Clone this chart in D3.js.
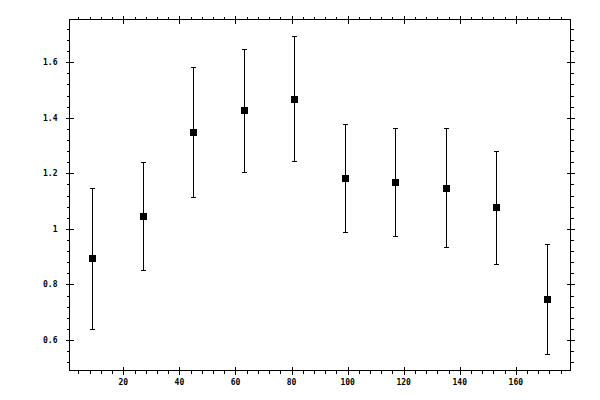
<!DOCTYPE html>
<html>
<head>
<meta charset="utf-8">
<style>
    body { margin: 0; background: #fff; }
    svg { display: block; }
    .tick-label {
        font-family: 'DejaVu Sans Mono', monospace;
        font-size: 8px;
        font-weight: bold;
        fill: #000;
    }
</style>
</head>
<body>
<svg width="600" height="400"></svg>
<script src="https://d3js.org/d3.v7.min.js"></script>
<script>
    // data
    let xs = [9, 27, 45, 63, 81, 99, 117, 135, 153, 171]
    let ys = [0.896, 1.047, 1.35, 1.429, 1.468, 1.184, 1.169, 1.148, 1.079, 0.748]
    let hi = [1.148, 1.24, 1.582, 1.647, 1.695, 1.377, 1.364, 1.364, 1.281, 0.946]
    let lo = [0.64, 0.853, 1.115, 1.204, 1.245, 0.989, 0.975, 0.935, 0.874, 0.55]

    let xMajor = [20, 40, 60, 80, 100, 120, 140, 160]
    let yMajor = [0.6, 0.8, 1.0, 1.2, 1.4, 1.6]
    let yLabels = ["0.6", "0.8", "1", "1.2", "1.4", "1.6"]

    let data = xs.map((x, i) => ({ x: x, y: ys[i], hi: hi[i], lo: lo[i] }))

    let svg = d3.select("svg")

    let frame = { left: 69.5, right: 570.5, top: 19.5, bottom: 370.5 }

    let x = d3.scaleLinear().domain([0.8, 179.5]).range([frame.left, frame.right])
    let y = d3.scaleLinear().domain([0.49, 1.754]).range([frame.bottom, frame.top])

    let xMinor = d3.range(4, 180, 4).filter(v => v % 20 != 0)
    let yMinor = d3.range(0.52, 1.75, 0.04).map(v => +v.toFixed(2))
        .filter(v => !yMajor.some(m => Math.abs(m - v) < 1e-6))

    let g = svg.append("g")
        .attr("stroke", "#000")
        .attr("stroke-width", 1)
        .attr("shape-rendering", "crispEdges")

    // frame
    g.append("rect")
        .attr("x", frame.left).attr("y", frame.top)
        .attr("width", frame.right - frame.left).attr("height", frame.bottom - frame.top)
        .attr("fill", "none")

    // major ticks cross the frame, minor ticks point out
    xMajor.forEach(v => {
        let px = Math.round(x(v)) + 0.5
        g.append("line").attr("x1", px).attr("x2", px).attr("y1", frame.bottom - 4).attr("y2", frame.bottom + 4)
        g.append("line").attr("x1", px).attr("x2", px).attr("y1", frame.top - 4).attr("y2", frame.top + 4)
    })
    xMinor.forEach(v => {
        let px = Math.round(x(v)) + 0.5
        g.append("line").attr("x1", px).attr("x2", px).attr("y1", frame.bottom).attr("y2", frame.bottom + 3)
        g.append("line").attr("x1", px).attr("x2", px).attr("y1", frame.top - 3).attr("y2", frame.top)
    })
    yMajor.forEach(v => {
        let py = Math.round(y(v)) + 0.5
        g.append("line").attr("x1", frame.left - 4).attr("x2", frame.left + 4).attr("y1", py).attr("y2", py)
        g.append("line").attr("x1", frame.right - 4).attr("x2", frame.right + 4).attr("y1", py).attr("y2", py)
    })
    yMinor.forEach(v => {
        let py = Math.round(y(v)) + 0.5
        g.append("line").attr("x1", frame.left - 3).attr("x2", frame.left).attr("y1", py).attr("y2", py)
        g.append("line").attr("x1", frame.right).attr("x2", frame.right + 3).attr("y1", py).attr("y2", py)
    })

    // tick labels
    svg.selectAll(".xl")
        .data(xMajor)
        .join("text")
        .attr("class", "tick-label")
        .attr("x", d => x(d))
        .attr("y", frame.bottom + 14)
        .attr("text-anchor", "middle")
        .text(d => d)

    svg.selectAll(".yl")
        .data(yMajor)
        .join("text")
        .attr("class", "tick-label")
        .attr("x", frame.left - 12)
        .attr("y", d => y(d) + 3)
        .attr("text-anchor", "end")
        .text((d, i) => yLabels[i])

    // error bars
    let bars = svg.append("g")
        .attr("stroke", "#000")
        .attr("stroke-width", 1)
        .attr("shape-rendering", "crispEdges")

    data.forEach(d => {
        let px = Math.round(x(d.x)) + 0.5
        let pHi = Math.round(y(d.hi)) + 0.5
        let pLo = Math.round(y(d.lo)) + 0.5
        bars.append("line").attr("x1", px).attr("x2", px).attr("y1", pHi).attr("y2", pLo)
        bars.append("line").attr("x1", px - 2.5).attr("x2", px + 2.5).attr("y1", pHi).attr("y2", pHi)
        bars.append("line").attr("x1", px - 2.5).attr("x2", px + 2.5).attr("y1", pLo).attr("y2", pLo)
    })

    // markers
    svg.append("g")
        .selectAll("rect")
        .data(data)
        .join("rect")
        .attr("x", d => Math.round(x(d.x)) - 3)
        .attr("y", d => Math.round(y(d.y)) - 3)
        .attr("width", 7)
        .attr("height", 7)
        .attr("fill", "#000")
</script>
</body>
</html>
